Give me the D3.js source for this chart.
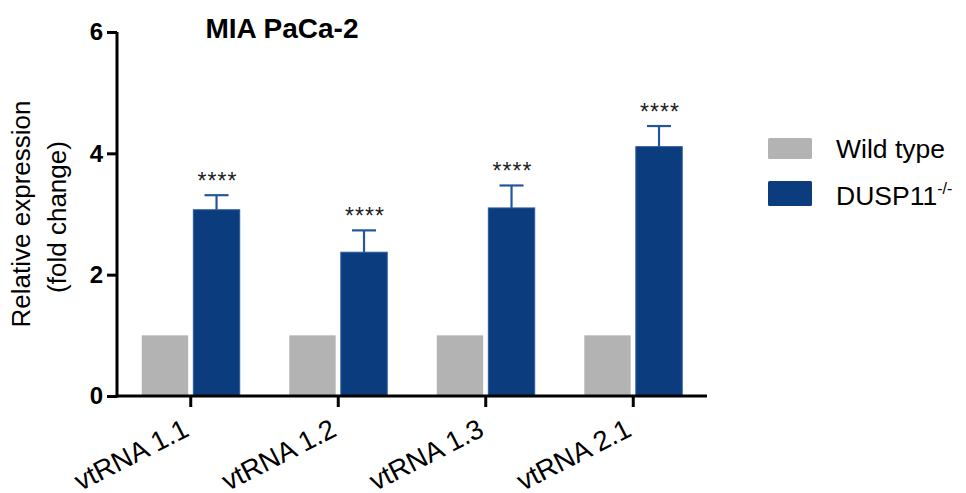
<!DOCTYPE html>
<html>
<head>
<meta charset="utf-8">
<script src="https://cdn.jsdelivr.net/npm/d3@7"></script>
<style>
  html, body { margin: 0; padding: 0; background: #fff; }
  svg { display: block; font-family: "Liberation Sans", Arial, Helvetica, sans-serif; }
</style>
</head>
<body>
<svg id="chart" width="966" height="493"></svg>
<script>
// ---- data ----
const categories = ["vtRNA 1.1", "vtRNA 1.2", "vtRNA 1.3", "vtRNA 2.1"];
const seriesNames = ["Wild type", "DUSP11"];
const wildTypeValues = [1, 1, 1, 1];
const duspValues = [3.07, 2.37, 3.10, 4.11];
const duspErrors = [0.24, 0.36, 0.37, 0.34];
const significance = ["****", "****", "****", "****"];
const yTicks = [0, 2, 4, 6];
const titleText = "MIA PaCa-2";
const yLabelLines = ["Relative expression", "(fold change)"];

const colors = { "Wild type": "#b3b3b3", "DUSP11": "#0b3d7e" };
const errColor = "#23569a";

const svg = d3.select("#chart");
const mLeft = 117, mRight = 707, mTop = 32, mBottom = 396;

const x0 = d3.scaleBand().domain(categories).range([mLeft, mRight])
  .paddingInner(0.336).paddingOuter(0.168);
const x1 = d3.scaleBand().domain(seriesNames).range([0, x0.bandwidth()]).paddingInner(0.1);
const y = d3.scaleLinear().domain([0, 6]).range([mBottom, mTop]);

const rows = categories.map((c, i) => ({
  cat: c,
  vals: [
    { s: "Wild type", v: wildTypeValues[i] },
    { s: "DUSP11", v: duspValues[i], e: duspErrors[i], sig: significance[i] }
  ]
}));

// bars
const g = svg.append("g");
const groups = g.selectAll("g.grp").data(rows).join("g")
  .attr("class", "grp")
  .attr("transform", d => `translate(${x0(d.cat)},0)`);

groups.selectAll("rect").data(d => d.vals).join("rect")
  .attr("x", d => x1(d.s))
  .attr("width", x1.bandwidth())
  .attr("y", d => y(d.v))
  .attr("height", d => y(0) - y(d.v))
  .attr("fill", d => colors[d.s])
  .attr("stroke", d => d.s === "DUSP11" ? "#2a5c9c" : "none")
  .attr("stroke-width", 1);

// error bars
const eb = groups.selectAll("g.err").data(d => d.vals.filter(v => v.e != null)).join("g").attr("class", "err");
eb.append("line")
  .attr("x1", d => x1(d.s) + x1.bandwidth() / 2)
  .attr("x2", d => x1(d.s) + x1.bandwidth() / 2)
  .attr("y1", d => y(d.v))
  .attr("y2", d => y(d.v + d.e))
  .attr("stroke", errColor).attr("stroke-width", 2.2);
eb.append("line")
  .attr("x1", d => x1(d.s) + x1.bandwidth() / 2 - 12)
  .attr("x2", d => x1(d.s) + x1.bandwidth() / 2 + 12)
  .attr("y1", d => y(d.v + d.e))
  .attr("y2", d => y(d.v + d.e))
  .attr("stroke", errColor).attr("stroke-width", 2.2);
eb.append("text")
  .attr("x", d => x1(d.s) + x1.bandwidth() / 2 + 1)
  .attr("y", d => y(d.v + d.e) - 6)
  .attr("text-anchor", "middle")
  .attr("font-size", 23)
  .attr("letter-spacing", 1)
  .attr("fill", "#222")
  .text(d => d.sig);

// y axis
const yAxis = svg.append("g")
  .attr("transform", `translate(${mLeft},0)`)
  .call(d3.axisLeft(y).tickValues(yTicks).tickSize(10).tickPadding(4).tickFormat(d3.format("d")));
yAxis.select(".domain").attr("stroke", "#000").attr("stroke-width", 3).attr("d", `M0,${mTop}V${mBottom + 1.5}`);
yAxis.selectAll(".tick line").attr("stroke", "#000").attr("stroke-width", 3);
yAxis.selectAll(".tick text").attr("font-size", 24).attr("font-weight", "bold").attr("fill", "#000")
  .attr("font-family", "Liberation Sans, Arial, sans-serif");

// x axis
const xAxis = svg.append("g")
  .attr("transform", `translate(0,${mBottom})`)
  .call(d3.axisBottom(x0).tickSize(11).tickSizeOuter(0));
xAxis.select(".domain").attr("stroke", "#000").attr("stroke-width", 3).attr("d", `M${mLeft - 1.5},0H${mRight}`);
xAxis.selectAll(".tick line").attr("stroke", "#000").attr("stroke-width", 3);
xAxis.selectAll(".tick text")
  .attr("font-size", 27.5)
  .attr("fill", "#000")
  .attr("font-family", "Liberation Sans, Arial, sans-serif")
  .attr("text-anchor", "end")
  .attr("dy", null)
  .attr("y", 0)
  .attr("transform", "translate(0,39) rotate(-27)");

// title
svg.append("text")
  .attr("x", 282).attr("y", 38)
  .attr("text-anchor", "middle")
  .attr("font-size", 28).attr("font-weight", "bold")
  .text(titleText);

// y label
const yl = svg.append("text")
  .attr("transform", `translate(0,214) rotate(-90)`)
  .attr("text-anchor", "middle")
  .attr("font-size", 26);
yl.append("tspan").attr("x", 0).attr("y", 30).text(yLabelLines[0]);
yl.append("tspan").attr("x", -3).attr("y", 66).text(yLabelLines[1]);

// legend
const legendY = [138, 181];
const legendH = [21, 25];
const lg = svg.append("g");
seriesNames.forEach((s, i) => {
  lg.append("rect").attr("x", 768).attr("y", legendY[i]).attr("width", 44).attr("height", legendH[i])
    .attr("rx", 1.5).attr("fill", colors[s]);
});
lg.append("text").attr("x", 836).attr("y", 158).attr("font-size", 26.5).text(seriesNames[0]);
const t2 = lg.append("text").attr("x", 836).attr("y", 205).attr("font-size", 26.5).text(seriesNames[1]);
t2.append("tspan").attr("font-size", 16).attr("dy", -11).text("-/-");
</script>
</body>
</html>
